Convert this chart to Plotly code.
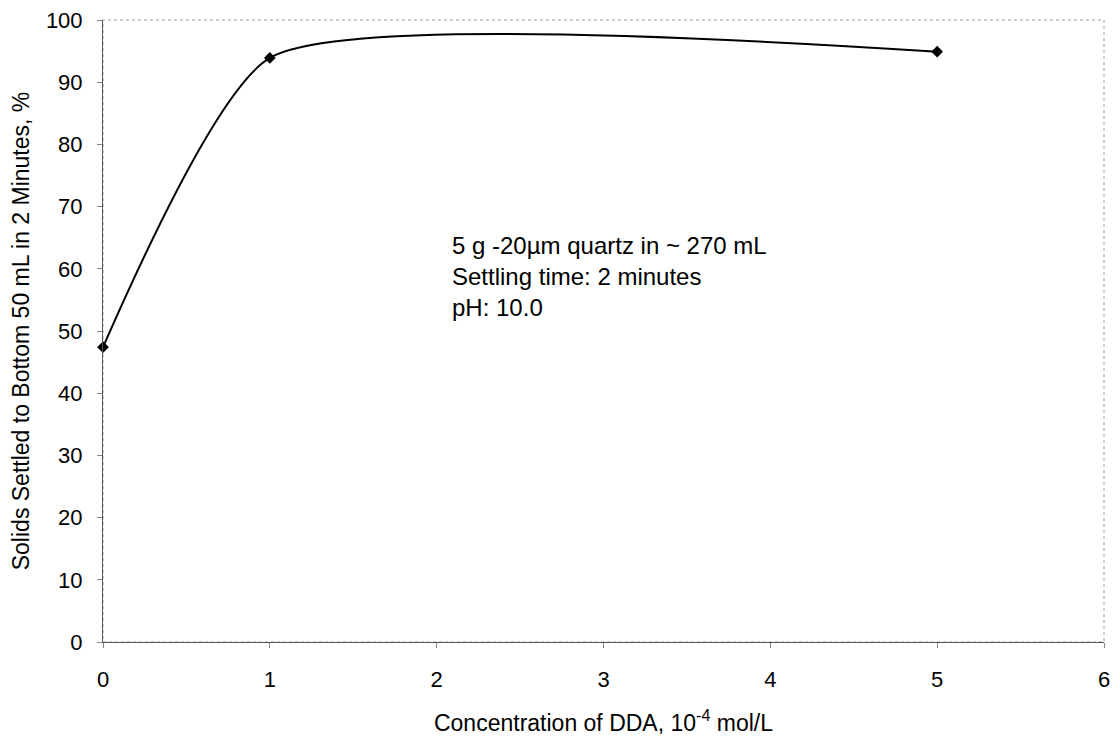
import plotly.graph_objects as go

conc = [0, 1, 5]
solids = [47.4, 93.9, 94.9]
x_ticks = [0, 1, 2, 3, 4, 5, 6]
y_ticks = [0, 10, 20, 30, 40, 50, 60, 70, 80, 90, 100]

fig = go.Figure()
fig.add_trace(go.Scatter(
    x=conc, y=solids, mode="lines+markers",
    line=dict(shape="spline", smoothing=0.55, color="black", width=2),
    marker=dict(symbol="diamond", size=9, color="black"),
    showlegend=False, cliponaxis=False,
))

FONT = "Liberation Sans, Arial, sans-serif"

# browser body has an 8px margin; figure is 1112x728 so plot sits where the reference's does
fig.update_layout(
    width=1112, height=728,
    margin=dict(l=95, r=16, t=12, b=94),
    plot_bgcolor="white", paper_bgcolor="white",
    font=dict(family=FONT, size=22, color="black"),
    xaxis=dict(range=[0, 6], tickvals=x_ticks, showgrid=False, zeroline=False,
               showline=True, linecolor="#555", linewidth=1,
               ticks="outside", ticklen=5, tickcolor="#888", ticklabelstandoff=13,
               tickfont=dict(size=22), automargin=False, ticklabeloverflow="allow",
               title=dict(text="Concentration of DDA, 10<sup>-4</sup> mol/L",
                          font=dict(size=23), standoff=24)),
    yaxis=dict(range=[0, 100], tickvals=y_ticks, showgrid=False, zeroline=False,
               showline=True, linecolor="#555", linewidth=1,
               ticks="outside", ticklen=5, tickcolor="#888", ticklabelstandoff=10,
               tickfont=dict(size=22), automargin=False, ticklabeloverflow="allow",
               title=dict(text="Solids Settled to Bottom 50 mL in 2 Minutes, %",
                          font=dict(size=23), standoff=12)),
    shapes=[dict(type="rect", xref="paper", yref="paper", x0=0, y0=0, x1=1, y1=1,
                 line=dict(color="#999", width=1, dash="dot"), layer="below")],
)
fig.add_annotation(
    x=(450 - 103) / 1001, y=(642 - 230) / 622, xref="paper", yref="paper",
    xanchor="left", yanchor="top", align="left", showarrow=False,
    text="5 g -20µm quartz in ~ 270 mL<br>Settling time: 2 minutes<br>pH: 10.0",
    font=dict(size=24, family=FONT),
)

fig.write_html("out.html")
